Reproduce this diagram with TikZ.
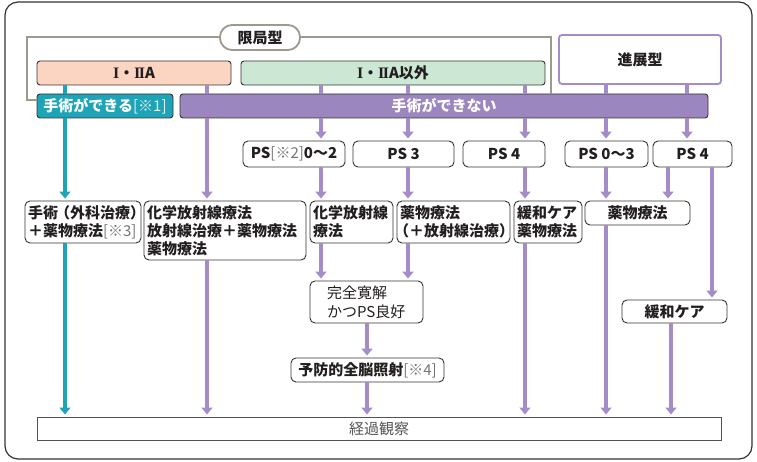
\documentclass[tikz,border=0pt]{standalone}
\usepackage{fontspec}
\setmainfont{Noto Sans CJK JP}
\newfontfamily\rmnum{Liberation Serif}
\usetikzlibrary{arrows.meta}
\definecolor{teal1}{HTML}{1FA4B7}
\definecolor{purp}{HTML}{9C86BF}
\definecolor{purpl}{HTML}{A48CC9}
\definecolor{salmon}{HTML}{FCD5C2}
\definecolor{mint}{HTML}{CDE7D5}
\definecolor{grayb}{HTML}{9E998D}
\definecolor{bdr}{HTML}{333333}
\definecolor{txt}{HTML}{231F20}
\definecolor{note}{HTML}{757575}
\definecolor{obstxt}{HTML}{555555}
\newcommand{\nt}[1]{{\mdseries\color{note}#1}}
\newcommand{\ntw}[1]{{\mdseries\color{white!88!teal1}#1}}
\newcommand{\rI}{{\rmnum\bfseries\fontsize{16}{18}\selectfont I}}
\newcommand{\rII}{{\rmnum\bfseries\fontsize{16}{18}\selectfont I\kern-1.6pt I}}
\tikzset{
  base/.style={inner sep=0pt, font=\fontsize{15}{18}\selectfont\bfseries, text=txt},
  hbox/.style={base, draw=bdr, line width=0.9pt, rounded corners=3pt, minimum height=24pt},
  rbox/.style={base, draw=bdr, line width=0.9pt, rounded corners=5pt, fill=white},
  lbox/.style={rbox, inner xsep=3pt, align=left},
  conn/.style={line width=3.1pt, draw=purpl},
  tconn/.style={line width=3.1pt, draw=teal1},
  arr/.style={-{Triangle[width=11pt,length=7pt]}, shorten >=2pt},
}
\begin{document}
\begin{tikzpicture}[x=1pt,y=-1pt]
\useasboundingbox (0,0) rectangle (757,462);
\node[draw=bdr, line width=1.2pt, rounded corners=13pt, minimum width=747pt, minimum height=457pt, inner sep=0pt] (frame) at (378.5,230.5) {};

% column coordinates
\coordinate (x1) at (65,0);
\coordinate (x2) at (207,0);
\coordinate (x3) at (321,0);
\coordinate (x4) at (408,0);
\coordinate (x5) at (525,0);
\coordinate (x6) at (606,0);
\coordinate (x7) at (687,0);
\coordinate (x8) at (668,0);
\coordinate (x9) at (712,0);
\coordinate (x10) at (367,0);
\coordinate (x11) at (671,0);
\coordinate (gl) at (27,100);
\coordinate (gtl) at (27,37);
\coordinate (gtr) at (551,37);

% top row
\node[hbox, fill=salmon, minimum width=194pt] (ia) at (134,73) {\rI・\rII A};
\node[hbox, fill=mint, minimum width=304pt] (ib) at (393,73) {\rI・\rII A以外};
\node[base, draw=purpl, line width=1.8pt, rounded corners=3pt, fill=white, minimum width=162pt, minimum height=49pt] (adv) at (640,59.5) {進展型};

% bars
\node[hbox, fill=teal1, text=white, minimum width=136pt] (can) at (105,106) {手術ができる\ntw{[※1]}};
\node[hbox, fill=purp, text=white, minimum width=528pt] (cannot) at (444,106) {手術ができない};

% bracket for localized
\draw[grayb, line width=1.8pt] (can.west |- gl) -- (gl) -- (gtl) -- (gtr) -- (cannot.north -| gtr);
\node[base, draw=grayb, line width=1.8pt, rounded corners=12pt, fill=white, minimum width=80pt, minimum height=25pt] (loc) at (260,37.5) {限局型};

% PS row
\node[rbox, minimum width=102pt, minimum height=26pt] (ps1) at (294,154) {PS\nt{[※2]}0〜2};
\node[rbox, minimum width=101pt, minimum height=26pt] (ps2) at (403.5,154) {PS 3};
\node[rbox, minimum width=82pt, minimum height=26pt] (ps3) at (504,154) {PS 4};
\node[rbox, minimum width=83pt, minimum height=26pt] (ps4) at (606.5,154) {PS 0〜3};
\node[rbox, minimum width=79pt, minimum height=26pt] (ps5) at (692.5,154) {PS 4};

% treatment row
\node[lbox, text width=110pt, minimum height=42pt] (t1) at (83,222) {手術\kern-3pt（外科治療）\kern-3pt\\＋薬物療法\nt{[※3]}};
\node[lbox, text width=156pt, minimum height=59pt] (t2) at (225,230.5) {化学放射線療法\\放射線治療＋薬物療法\\薬物療法};
\node[lbox, text width=77pt, minimum height=42pt] (t3) at (351.5,222) {化学放射線\\療法};
\node[lbox, text width=107pt, minimum height=42pt] (t4) at (453.5,222) {薬物療法\\\hspace*{-6pt}（＋放射線治療）};
\node[lbox, text width=62pt, minimum height=42pt] (t5) at (548,222) {緩和ケア\\薬物療法};
\node[rbox, minimum width=105pt, minimum height=24pt] (t6) at (637.5,213) {薬物療法};

\node[rbox, font=\fontsize{15}{19}\selectfont\mdseries, text width=79pt, align=left, minimum width=113pt, minimum height=42pt] (cr) at (366.5,302) {完全寛解\\かつPS良好};
\node[rbox, minimum width=153pt, minimum height=24pt] (pci) at (367.5,370) {予防的全脳照射\nt{[※4]}};
\node[rbox, minimum width=105pt, minimum height=23pt] (pal) at (674.5,311.5) {緩和ケア};
\node[base, font=\fontsize{15}{18}\selectfont\mdseries, text=obstxt, draw=bdr!85, line width=1pt, minimum width=684pt, minimum height=23pt] (obs) at (379,428.5) {経過観察};

% teal connectors
\draw[tconn] (ia.south -| x1) -- (can.north -| x1);
\draw[tconn, arr] (can.south -| x1) -- (t1.north -| x1);
\draw[tconn, arr] (t1.south -| x1) -- (obs.north -| x1);

% purple connectors
\draw[conn] (ia.south -| x2) -- (cannot.north -| x2);
\draw[conn, arr] (cannot.south -| x2) -- (t2.north -| x2);
\draw[conn, arr] (t2.south -| x2) -- (obs.north -| x2);

\draw[conn] (ib.south -| x3) -- (cannot.north -| x3);
\draw[conn, arr] (cannot.south -| x3) -- (ps1.north -| x3);
\draw[conn, arr] (ps1.south -| x3) -- (t3.north -| x3);
\draw[conn, arr] (t3.south -| x3) -- (cr.north -| x3);

\draw[conn] (ib.south -| x4) -- (cannot.north -| x4);
\draw[conn, arr] (cannot.south -| x4) -- (ps2.north -| x4);
\draw[conn, arr] (ps2.south -| x4) -- (t4.north -| x4);
\draw[conn, arr] (t4.south -| x4) -- (cr.north -| x4);

\draw[conn] (ib.south -| x5) -- (cannot.north -| x5);
\draw[conn, arr] (cannot.south -| x5) -- (ps3.north -| x5);
\draw[conn, arr] (ps3.south -| x5) -- (t5.north -| x5);
\draw[conn, arr] (t5.south -| x5) -- (obs.north -| x5);

\draw[conn] (adv.south -| x6) -- (cannot.north -| x6);
\draw[conn, arr] (cannot.south -| x6) -- (ps4.north -| x6);
\draw[conn, arr] (ps4.south -| x6) -- (t6.north -| x6);
\draw[conn, arr] (t6.south -| x6) -- (obs.north -| x6);

\draw[conn] (adv.south -| x7) -- (cannot.north -| x7);
\draw[conn, arr] (cannot.south -| x7) -- (ps5.north -| x7);
\draw[conn, arr] (ps5.south -| x8) -- (t6.north -| x8);
\draw[conn, arr] (ps5.south -| x9) -- (pal.north -| x9);
\draw[conn, arr] (pal.south -| x11) -- (obs.north -| x11);

\draw[conn, arr] (cr.south -| x10) -- (pci.north -| x10);
\draw[conn, arr] (pci.south -| x10) -- (obs.north -| x10);
\end{tikzpicture}
\end{document}
